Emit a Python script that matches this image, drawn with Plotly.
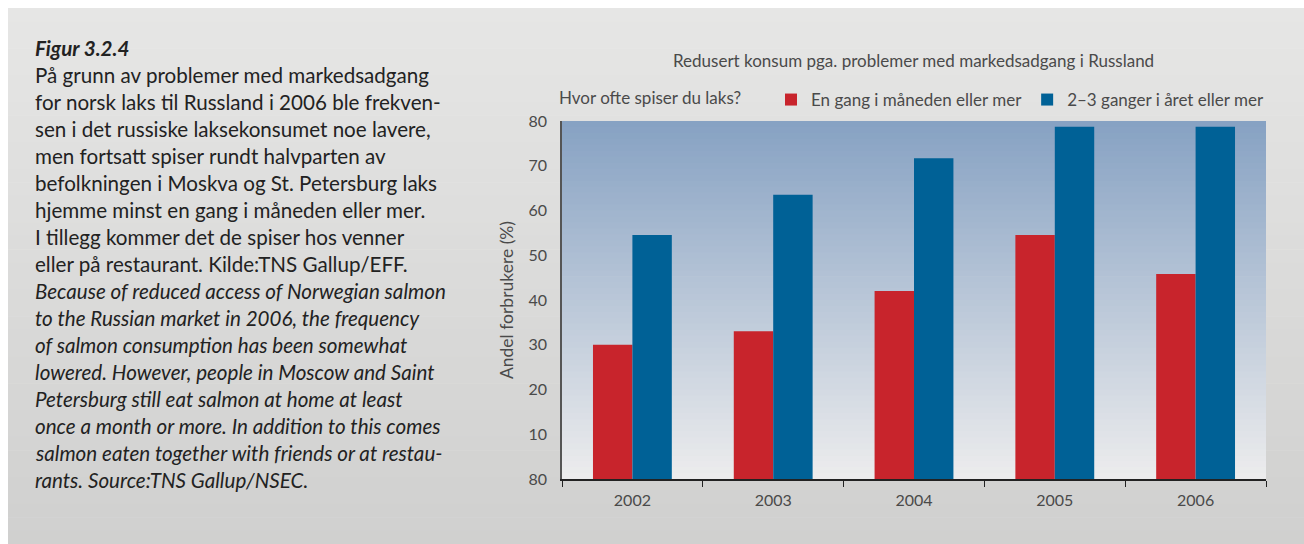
import plotly.graph_objects as go

years = ["2002", "2003", "2004", "2005", "2006"]
monthly = [30, 33, 42, 54.5, 45.8]
yearly = [54.5, 63.5, 71.7, 78.7, 78.7]
series_names = ["En gang i måneden eller mer", "2–3 ganger i året eller mer"]
ytick_vals = [0, 10, 20, 30, 40, 50, 60, 70, 80]
ytick_text = ["80", "10", "20", "30", "40", "50", "60", "70", "80"]
chart_title = "Redusert konsum pga. problemer med markedsadgang i Russland"
legend_title = "Hvor ofte spiser du laks?"
y_title = "Andel forbrukere (%)"
caption_title = "Figur 3.2.4"
caption_no = [
    "På grunn av problemer med markedsadgang",
    "for norsk laks til Russland i 2006 ble frekven-",
    "sen i det russiske laksekonsumet noe lavere,",
    "men fortsatt spiser rundt halvparten av",
    "befolkningen i Moskva og St. Petersburg laks",
    "hjemme minst en gang i måneden eller mer.",
    "I tillegg kommer det de spiser hos venner",
    "eller på restaurant. Kilde:TNS Gallup/EFF.",
]
caption_en = [
    "Because of reduced access of Norwegian salmon",
    "to the Russian market in 2006, the frequency",
    "of salmon consumption has been somewhat",
    "lowered. However, people in Moscow and Saint",
    "Petersburg still eat salmon at home at least",
    "once a month or more. In addition to this comes",
    "salmon eaten together with friends or at restau-",
    "rants. Source:TNS Gallup/NSEC.",
]

W, H = 1304, 544
L, R, T, B = 562, 1266, 121, 479
FONT = "Lato"
TXT = "#4a4a4a"

def px_x(px):
    return (px - L) / (R - L)

def px_y(py):
    return (B - py) / (B - T)

def lerp(c1, c2, t):
    return "rgb(%d,%d,%d)" % tuple(round(a + (b - a) * t) for a, b in zip(c1, c2))

fig = go.Figure()
fig.add_trace(go.Bar(x=years, y=monthly, name=series_names[0], marker_color="#c8242c",
                     marker_line_width=0))
fig.add_trace(go.Bar(x=years, y=yearly, name=series_names[1], marker_color="#006196",
                     marker_line_width=0))

shapes = []
# grey panel gradient
n = 40
top_c, bot_c = (230, 230, 229), (208, 208, 207)
y0p, y1p = 8, H
for i in range(n):
    a = y0p + (y1p - y0p) * i / n
    b = y0p + (y1p - y0p) * (i + 1) / n + 0.5
    shapes.append(dict(type="rect", xref="paper", yref="paper",
                       x0=px_x(8), x1=px_x(W + 2), y0=px_y(b), y1=px_y(a),
                       fillcolor=lerp(top_c, bot_c, i / (n - 1)), line_width=0, layer="below"))
# plot area gradient
m = 60
ptop, pbot = (135, 162, 195), (236, 236, 237)
for i in range(m):
    shapes.append(dict(type="rect", xref="x domain", yref="y domain",
                       x0=0, x1=1, y0=1 - (i + 1) / m - 0.002, y1=1 - i / m,
                       fillcolor=lerp(ptop, pbot, i / (m - 1)), line_width=0, layer="below"))

annotations = []
annotations.append(dict(text=chart_title, xref="paper", yref="paper", x=px_x(913), y=px_y(60),
                        xanchor="center", yanchor="middle", showarrow=False,
                        font=dict(family=FONT, size=17, color=TXT)))
lines = ["<b><i>" + caption_title + "</i></b>"] + caption_no + ["<i>" + s + "</i>" for s in caption_en]
for i, s in enumerate(lines):
    center = 48 + 27 * i
    annotations.append(dict(text=s, xref="paper", yref="paper", x=px_x(33), y=px_y(center),
                            xanchor="left", yanchor="middle", showarrow=False,
                            font=dict(family=FONT, size=20.6, color="#222222")))

fig.update_layout(
    width=W, height=H,
    margin=dict(l=L, r=W - R, t=T, b=H - B, pad=0),
    paper_bgcolor="white", plot_bgcolor="rgba(0,0,0,0)",
    barmode="group", bargap=0.44, bargroupgap=0,
    font=dict(family=FONT, size=16, color=TXT),
    shapes=shapes, annotations=annotations,
    showlegend=True,
    legend=dict(orientation="h", x=px_x(557), y=px_y(100), xanchor="left", yanchor="middle",
                bgcolor="rgba(0,0,0,0)", font=dict(family=FONT, size=17, color=TXT),
                title=dict(text=legend_title + "     ", side="left",
                           font=dict(family=FONT, size=17, color=TXT)),
                itemwidth=30, tracegroupgap=0),
    xaxis=dict(showline=True, linecolor="#222", linewidth=1.5, ticks="outside",
               tickson="boundaries", ticklen=6, tickcolor="#222", tickwidth=1,
               ticklabelstandoff=6,
               showgrid=False, tickfont=dict(family=FONT, size=16, color=TXT), fixedrange=True),
    yaxis=dict(range=[0, 80], tickvals=ytick_vals, ticktext=ytick_text, showline=True,
               linecolor="#555", linewidth=1.5, ticks="", showgrid=False, zeroline=False,
               tickfont=dict(family=FONT, size=16, color=TXT), ticklabelstandoff=10,
               title=dict(text=y_title, font=dict(family=FONT, size=17.5, color=TXT), standoff=10),
               fixedrange=True),
)

fig.write_html("out.html")
